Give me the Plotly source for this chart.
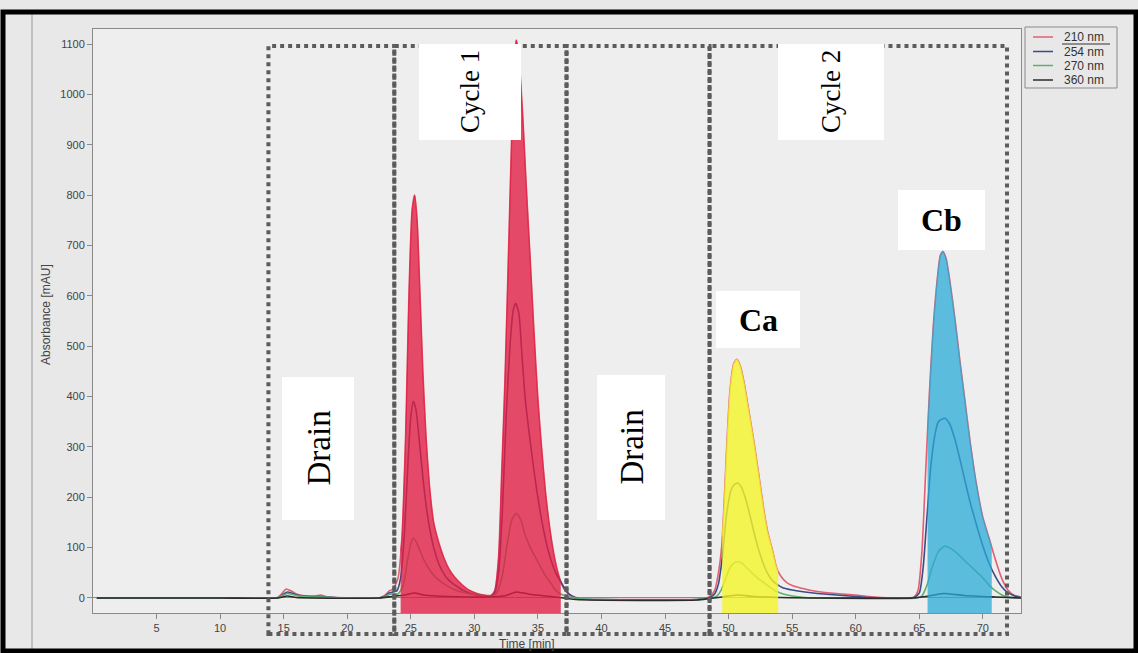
import plotly.graph_objects as go
import numpy as np

# ---------------- data ----------------
series_names = ["210 nm", "254 nm", "270 nm", "360 nm"]

t_210 = [0.3, 5, 10, 13.5, 14.5, 14.9, 15.2, 15.6, 16.0, 16.5, 17.0, 17.5, 17.9, 18.3, 19, 20, 22, 22.6, 23.0, 23.3, 23.6,
         24.0, 24.3, 24.6, 24.85, 25.1, 25.3, 25.5, 25.7, 25.95, 26.2, 26.5, 26.8, 27.2, 27.6, 28.0, 28.5, 29.0, 29.5, 30.0,
         30.5, 31.0, 31.3, 31.6, 31.9, 32.15, 32.4, 32.7, 32.95, 33.15, 33.3, 33.5, 33.8, 34.1, 34.4, 34.7, 35.0, 35.3,
         35.6, 35.9, 36.2, 36.5, 36.8, 37.1, 37.5, 38.0, 38.5, 40, 45, 47.5, 48.2, 48.6, 48.9, 49.2, 49.45, 49.65, 49.85,
         50.1, 50.4, 50.65, 50.9, 51.2, 51.5, 51.8, 52.05, 52.4, 52.8, 53.1, 53.4, 53.8, 54.2, 54.6, 55.0, 56, 57, 58, 59,
         60, 61, 62, 63, 64.2, 64.6, 64.9, 65.2, 65.5, 65.8, 66.1, 66.4, 66.65, 66.85, 67.1, 67.4, 67.8, 68.2, 68.6, 69.0,
         69.5, 70.0, 70.5, 71.0, 71.5, 72.0, 72.5, 73.0]
a_210 = [0, 0, 0, 0, 1, 10, 18, 14, 8, 5, 4, 4, 6, 3, 1, 0, 0, 1, 6, 14, 18,
         40, 120, 330, 600, 770, 800, 750, 620, 450, 320, 215, 150, 110, 80, 58, 40, 27, 17, 11,
         7, 5, 5, 15, 80, 250, 430, 700, 930, 1070, 1108, 1075, 960, 810, 670, 525, 395, 295,
         210, 145, 95, 58, 32, 16, 6, 1, -2, -3, -3, -3, -1, 5, 15, 50, 100, 190, 300,
         410, 465, 474, 462, 430, 385, 340, 300, 240, 170, 128, 100, 58, 40, 30, 25, 18, 13, 10, 8,
         6, 3, 1, 0, 0, 2, 15, 90, 250, 410, 540, 630, 680, 688, 675, 630, 555, 470, 390, 310,
         225, 160, 118, 75, 38, 15, 5, 2]

t_254 = [0.3, 5, 10, 14.0, 14.6, 15.0, 15.3, 15.7, 16.2, 17.0, 18.0, 19.0, 22.5, 23.0, 23.3, 23.6, 23.9, 24.2, 24.5,
         24.8, 25.0, 25.2, 25.4, 25.6, 25.85, 26.1, 26.4, 26.8, 27.2, 27.6, 28.0, 28.5, 29.0, 29.5, 30.0, 30.5, 31.0,
         31.3, 31.6, 31.9, 32.2, 32.5, 32.8, 33.05, 33.25, 33.5, 33.75, 34.0, 34.3, 34.6, 34.9, 35.2, 35.5, 35.8, 36.1,
         36.4, 36.8, 37.2, 37.6, 38.0, 38.5, 40, 47.5, 48.2, 48.5, 48.9, 49.2, 49.5, 49.85, 50.2, 50.5, 50.75, 51.0, 51.3,
         51.6, 51.95, 52.3, 52.7, 53.0, 53.4, 53.8, 54.3, 55, 56, 57, 58, 59, 60, 61, 62, 64.2, 64.6, 65.0, 65.3, 65.6,
         65.9, 66.2, 66.5, 67.0, 67.4, 67.8, 68.2, 68.6, 69.0, 69.5, 70.0, 70.5, 71.0, 71.5, 72.0, 72.5, 73.0]
a_254 = [0, 0, 0, 0, 1, 8, 12, 9, 5, 3, 3, 1, 0, 4, 10, 12, 14, 40, 130,
         280, 360, 390, 375, 330, 265, 205, 150, 100, 68, 48, 35, 25, 17, 11, 7, 5, 4,
         4, 10, 50, 170, 360, 500, 570, 585, 565, 480, 395, 330, 270, 215, 168, 128, 95, 70,
         50, 32, 15, 5, 0, -2, -3, -3, -1, 1, 8, 28, 80, 168, 215, 226, 228, 220, 200,
         172, 135, 101, 70, 52, 36, 27, 20, 16, 12, 9, 7, 5, 3, 1, 0, 0, 1, 10, 60, 160,
         260, 320, 350, 357, 345, 315, 275, 232, 190, 145, 103, 68, 42, 22, 10, 4, 1]

t_270 = [0.3, 5, 10, 14.0, 14.6, 15.0, 15.3, 15.7, 16.2, 17.0, 18.0, 19.0, 22.5, 23.0, 23.3, 23.6, 24.0, 24.4, 24.75,
         25.0, 25.2, 25.45, 25.75, 26.1, 26.5, 27.0, 27.5, 28.0, 28.5, 29.0, 29.5, 30.0, 30.5, 31.0, 31.4, 31.8, 32.2,
         32.6, 32.95, 33.3, 33.65, 34.0, 34.4, 34.8, 35.2, 35.6, 36.0, 36.3, 36.7, 37.2, 37.7, 38.5, 40, 47.5, 48.2,
         48.7, 49.1, 49.4, 49.7, 50.1, 50.45, 50.75, 51.1, 51.5, 52.0, 52.4, 52.7, 53.2, 53.7, 54.3, 55.0, 56, 57,
         64.8, 65.2, 65.6, 66.0, 66.5, 67.0, 67.5, 68.0, 68.5, 69.0, 69.5, 70.0, 70.5, 71.0, 71.5, 72.0, 73.0]
a_270 = [0, 0, 0, 0, 1, 6, 9, 7, 4, 2, 2, 1, 0, 3, 7, 8, 8, 25, 75,
         108, 119, 110, 92, 72, 55, 40, 30, 22, 16, 12, 9, 7, 5, 4, 4, 12, 45,
         110, 155, 168, 155, 125, 100, 81, 62, 44, 30, 18, 9, 4, 1, -2, -3, -3, -1,
         0, 4, 15, 34, 60, 70, 72, 68, 58, 46, 37, 32, 22, 14, 8, 4, 1, 0,
         0, 4, 25, 60, 92, 103, 98, 88, 76, 64, 52, 40, 25, 14, 6, 2, 0]

t_360 = [0.3, 5, 10, 14.5, 15.3, 16.0, 22.5, 23.5, 24.5, 25.3, 26.0, 28.0, 31.0, 32.5, 33.3, 34.5, 36.0, 38.0, 47.5,
         48.5, 49.5, 50.7, 52.0, 54.0, 64.5, 65.5, 66.9, 68.5, 71.0, 73.0]
a_360 = [0, 0, 0, 0, 4, 1, 0, 3, 6, 10, 6, 3, 2, 5, 12, 7, 3, -3, -4,
         -1, 2, 6, 3, 1, 0, 3, 9, 5, 2, 0]

x_ticks = [5, 10, 15, 20, 25, 30, 35, 40, 45, 50, 55, 60, 65, 70]
y_ticks = [0, 100, 200, 300, 400, 500, 600, 700, 800, 900, 1000, 1100]

# marked regions (minutes)
region_edges = [13.8, 23.7, 37.25, 48.5, 71.9]          # dotted boxes: Drain, Cycle 1, Drain, Cycle 2
highlight_windows = [(24.2, 36.8), (49.5, 53.9), (65.65, 70.7)]   # Cycle 1, Ca, Cb
highlight_colors = ["rgba(226,28,66,0.78)", "rgba(245,245,40,0.80)", "rgba(40,170,215,0.74)"]

# ---------------- geometry helpers (pixels -> paper) ----------------
W, H = 1138, 653
L, R, T, B = 93, 1021, 29, 613
XR = [0, 73]
YR = [-29.8, 1129.8]


def px(x):
    return (x - L) / (R - L)


def py(y):
    return (B - y) / (B - T)


line_colors = ["#e06072", "#3e4a86", "#5fb06c", "#2b2b2b"]
ts = [t_210, t_254, t_270, t_360]
vs = [a_210, a_254, a_270, a_360]

fig = go.Figure()
for name, t, v, c in zip(series_names, ts, vs, line_colors):
    fig.add_trace(go.Scatter(x=t, y=v, mode="lines", name=name,
                             line=dict(color=c, width=1.6, shape="spline", smoothing=0.6),
                             showlegend=False, hoverinfo="skip"))

# highlighter fills (drawn over the lines, like the marker pen on paper)
t210 = np.array(t_210, dtype=float)
a210 = np.array(a_210, dtype=float)
for (x0, x1), col in zip(highlight_windows, highlight_colors):
    inside = (t210 > x0) & (t210 < x1)
    xs = [x0] + list(t210[inside]) + [x1]
    ys = [float(np.interp(x0, t210, a210))] + list(a210[inside]) + [float(np.interp(x1, t210, a210))]
    fig.add_trace(go.Scatter(x=[x0, x1], y=[YR[0], YR[0]], mode="lines", line=dict(width=0),
                             showlegend=False, hoverinfo="skip"))
    fig.add_trace(go.Scatter(x=xs, y=ys, mode="lines", fill="tonexty", fillcolor=col,
                             line=dict(width=0.8, color=col, shape="spline", smoothing=0.6),
                             showlegend=False, hoverinfo="skip"))

shapes = []
annotations = []

# dotted region boxes
box_top, box_bot = py(46), py(634)
for x0, x1 in zip(region_edges[:-1], region_edges[1:]):
    shapes.append(dict(type="rect", xref="x", yref="paper", x0=x0, x1=x1, y0=box_bot, y1=box_top,
                       line=dict(color="#5c5c5c", width=4, dash="4px,4px"), layer="above"))

# white label boxes with serif text
labels = [
    ("Drain", (282, 377, 354, 520), -90, False, 33),
    ("Cycle 1", (419, 44, 521, 140), -90, False, 27),
    ("Drain", (597, 375, 665, 520), -90, False, 33),
    ("Cycle 2", (778, 44, 884, 140), -90, False, 27),
    ("Ca", (716, 291, 800, 348), 0, True, 32),
    ("Cb", (898, 190, 985, 250), 0, True, 32),
]
for text, (x0, y0, x1, y1), ang, bold, fs in labels:
    shapes.append(dict(type="rect", xref="paper", yref="paper", x0=px(x0), x1=px(x1), y0=py(y1), y1=py(y0),
                       fillcolor="white", line=dict(width=0), layer="above"))
    annotations.append(dict(x=px((x0 + x1) / 2), y=py((y0 + y1) / 2), xref="paper", yref="paper",
                            text=f"<b>{text}</b>" if bold else text, textangle=ang, showarrow=False,
                            font=dict(family="Liberation Serif", size=fs, color="black"),
                            xanchor="center", yanchor="middle"))

# manual legend box
shapes.append(dict(type="rect", xref="paper", yref="paper", x0=px(1025), x1=px(1117), y0=py(88), y1=py(27),
                   fillcolor="rgba(0,0,0,0)", line=dict(color="#8a8a8a", width=1)))
leg_y = [37, 51.5, 65.5, 80]
for name, c, yy in zip(series_names, line_colors, leg_y):
    shapes.append(dict(type="line", xref="paper", yref="paper", x0=px(1033), x1=px(1053), y0=py(yy), y1=py(yy),
                       line=dict(color=c, width=1.5)))
    annotations.append(dict(x=px(1062), y=py(yy), xref="paper", yref="paper", text=name, showarrow=False,
                            xanchor="left", yanchor="middle",
                            font=dict(family="Liberation Sans", size=12, color="#333333")))
shapes.append(dict(type="line", xref="paper", yref="paper", x0=px(1062), x1=px(1110), y0=py(44), y1=py(44),
                   line=dict(color="#333333", width=1)))

# axis titles
annotations.append(dict(x=px(46), y=py(315), xref="paper", yref="paper", text="Absorbance [mAU]",
                        textangle=-90, showarrow=False, xanchor="center", yanchor="middle",
                        font=dict(family="Liberation Sans", size=12, color="#444444")))
annotations.append(dict(x=px(527), y=py(644), xref="paper", yref="paper", text="Time [min]",
                        showarrow=False, xanchor="center", yanchor="middle",
                        font=dict(family="Liberation Sans", size=12, color="#444444")))

# report frame line and photo border
shapes.append(dict(type="line", xref="paper", yref="paper", x0=px(32), x1=px(32), y0=py(653), y1=py(12),
                   line=dict(color="#9a9a9a", width=1)))
shapes.append(dict(type="rect", xref="paper", yref="paper", x0=px(3), x1=px(1136), y0=py(651), y1=py(12),
                   line=dict(color="black", width=5)))

fig.update_layout(
    width=W, height=H, autosize=False,
    margin=dict(l=L, r=W - R, t=T, b=H - B),
    paper_bgcolor="#e8e8e8", plot_bgcolor="#eeeeee",
    shapes=shapes, annotations=annotations, showlegend=False,
    font=dict(family="Liberation Sans", size=11, color="#444444"),
)
fig.update_xaxes(range=XR, tickvals=x_ticks, ticks="outside", ticklen=5, tickcolor="#8a8a8a",
                 showline=True, linecolor="#8a8a8a", linewidth=1, mirror=True, showgrid=False,
                 zeroline=False, tickfont=dict(size=11, color="#444444"))
fig.update_yaxes(range=YR, tickvals=y_ticks, ticks="outside", ticklen=5, tickcolor="#8a8a8a",
                 showline=True, linecolor="#8a8a8a", linewidth=1, mirror=True, showgrid=False,
                 zeroline=True, zerolinecolor="#8a8a8a", zerolinewidth=1,
                 tickfont=dict(size=11, color="#444444"))

fig.write_html("out.html", config={"displayModeBar": False},
               post_script="document.body.style.margin='0';document.body.style.overflow='hidden';")
